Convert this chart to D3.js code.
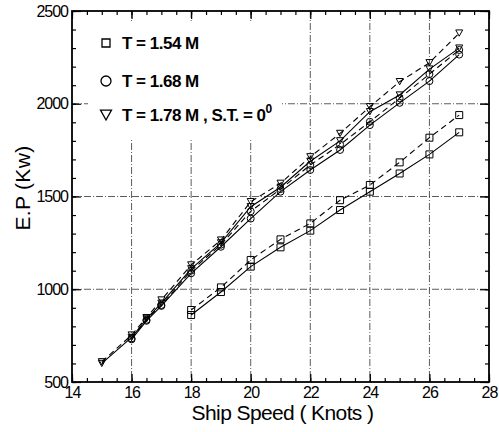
<!DOCTYPE html>
<html>
<head>
<meta charset="utf-8">
<script src="https://cdn.jsdelivr.net/npm/d3@7"></script>
<style>
  body { margin: 0; background: #fff; }
  svg { display: block; font-family: "Liberation Sans", Arial, sans-serif; }
</style>
</head>
<body>
<div id="chart"></div>
<script>
// speeds (knots)
var speedsUpper = [15, 16, 16.5, 17, 18, 19, 20, 21, 22, 23, 24, 25, 26, 27];
var speedsCircle = [16, 16.5, 17, 18, 19, 20, 21, 22, 23, 24, 25, 26, 27];
var speedsSquare = [18, 19, 20, 21, 22, 23, 24, 25, 26, 27];

// E.P (Kw)
var triDashed = [609, 753, 847, 942, 1131, 1265, 1472, 1571, 1714, 1840, 1984, 2119, 2221, 2381];
var triSolid = [600, 740, 840, 925, 1110, 1250, 1445, 1550, 1690, 1800, 1957, 2047, 2187, 2300];
var circDashed = [735, 835, 915, 1100, 1240, 1420, 1540, 1670, 1780, 1903, 2030, 2160, 2290];
var circSolid = [730, 830, 910, 1086, 1229, 1381, 1526, 1643, 1751, 1885, 2005, 2122, 2265];
var sqDashed = [888, 1010, 1158, 1269, 1355, 1480, 1562, 1684, 1817, 1939];
var sqSolid = [861, 985, 1122, 1226, 1316, 1427, 1526, 1624, 1727, 1846];

var xTicks = [14, 16, 18, 20, 22, 24, 26, 28];
var yTicks = [500, 1000, 1500, 2000, 2500];
var legendLabels = ["T = 1.54 M", "T = 1.68 M", "T = 1.78 M , S.T. = 0"];

var W = 499, H = 432;
// plot box (window.top is taken, hence the prefix)
var pLeft = 72, pRight = 489, pTop = 11, pBottom = 382;

var x = d3.scaleLinear().domain([14, 28]).range([pLeft, pRight]);
var y = d3.scaleLinear().domain([500, 2500]).range([pBottom, pTop]);

var svg = d3.select('#chart').append('svg').attr('width', W).attr('height', H);

// grid (dash-dot)
var grid = svg.append('g').attr('stroke', '#333').attr('stroke-width', 0.8)
  .attr('stroke-dasharray', '7,2,1,2');
xTicks.slice(1, -1).forEach(function(v) {
  grid.append('line').attr('x1', x(v)).attr('x2', x(v)).attr('y1', pTop).attr('y2', pBottom);
});
yTicks.slice(1, -1).forEach(function(v) {
  grid.append('line').attr('x1', pLeft).attr('x2', pRight).attr('y1', y(v)).attr('y2', y(v));
});

// axes, ticks pointing inward
var minorX = d3.range(14, 28.01, 0.5);
var minorY = d3.range(500, 2501, 100);

function styleAxis(g) {
  g.select('.domain').remove();
  g.selectAll('line').attr('stroke', '#000').attr('stroke-width', 1.2);
  g.selectAll('text').attr('fill', '#000').attr('font-size', 16).attr('letter-spacing', -1);
}

svg.append('g').attr('transform', 'translate(0,' + pBottom + ')')
  .call(d3.axisBottom(x).tickValues(minorX).tickSize(-4).tickFormat(''))
  .call(styleAxis);
svg.append('g').attr('transform', 'translate(0,' + pBottom + ')')
  .call(d3.axisBottom(x).tickValues(xTicks).tickSize(-8).tickPadding(5).tickFormat(d3.format('d')))
  .call(styleAxis);
svg.append('g').attr('transform', 'translate(0,' + pTop + ')')
  .call(d3.axisTop(x).tickValues(minorX).tickSize(-4).tickFormat(''))
  .call(styleAxis);
svg.append('g').attr('transform', 'translate(0,' + pTop + ')')
  .call(d3.axisTop(x).tickValues(xTicks).tickSize(-8).tickFormat(''))
  .call(styleAxis);

svg.append('g').attr('transform', 'translate(' + pLeft + ',0)')
  .call(d3.axisLeft(y).tickValues(minorY).tickSize(-4).tickFormat(''))
  .call(styleAxis);
svg.append('g').attr('transform', 'translate(' + pLeft + ',0)')
  .call(d3.axisLeft(y).tickValues(yTicks).tickSize(-9).tickPadding(4).tickFormat(d3.format('d')))
  .call(styleAxis);
svg.append('g').attr('transform', 'translate(' + pRight + ',0)')
  .call(d3.axisRight(y).tickValues(minorY).tickSize(-4).tickFormat(''))
  .call(styleAxis);
svg.append('g').attr('transform', 'translate(' + pRight + ',0)')
  .call(d3.axisRight(y).tickValues(yTicks).tickSize(-9).tickFormat(''))
  .call(styleAxis);

// frame
svg.append('rect').attr('x', pLeft).attr('y', pTop)
  .attr('width', pRight - pLeft).attr('height', pBottom - pTop)
  .attr('fill', 'none').attr('stroke', '#000').attr('stroke-width', 1.8);

// markers
var symSquare = d3.symbol().type(d3.symbolSquare);
var symCircle = d3.symbol().type(d3.symbolCircle);
function triPath(s) {
  var h = s * 0.9;
  return 'M' + (-s / 2) + ',' + (-h / 2) + 'L' + (s / 2) + ',' + (-h / 2) + 'L0,' + (h / 2) + 'Z';
}
function markerPath(kind, size) {
  if (kind === 'square') return symSquare.size(size * size)();
  if (kind === 'circle') return symCircle.size(Math.PI * size * size / 4)();
  return triPath(size);
}

var series = [
  { xs: speedsSquare, ys: sqSolid, dash: null, kind: 'square' },
  { xs: speedsSquare, ys: sqDashed, dash: '6,4', kind: 'square' },
  { xs: speedsCircle, ys: circSolid, dash: null, kind: 'circle' },
  { xs: speedsCircle, ys: circDashed, dash: '6,4', kind: 'circle' },
  { xs: speedsUpper, ys: triSolid, dash: null, kind: 'tri' },
  { xs: speedsUpper, ys: triDashed, dash: '6,4', kind: 'tri' }
];

var line = d3.line().x(function(d) { return x(d[0]); }).y(function(d) { return y(d[1]); });

series.forEach(function(s) {
  var pts = s.xs.map(function(v, i) { return [v, s.ys[i]]; });
  svg.append('path').datum(pts).attr('d', line)
    .attr('fill', 'none').attr('stroke', '#000').attr('stroke-width', 1.1)
    .attr('stroke-dasharray', s.dash);
  svg.append('g').selectAll('path').data(pts).enter().append('path')
    .attr('transform', function(d) { return 'translate(' + x(d[0]) + ',' + y(d[1]) + ')'; })
    .attr('d', markerPath(s.kind, 7))
    .attr('fill', 'none').attr('stroke', '#000').attr('stroke-width', 1);
});

// legend, on a white box that hides the grid behind it
var legY = [43, 81, 115];
var legKinds = ['square', 'circle', 'tri'];
var legSizes = [8, 10, 11];
var leg = svg.append('g');
leg.append('rect').attr('x', 88).attr('y', 22).attr('width', 194).attr('height', 118)
  .attr('fill', '#fff');
legKinds.forEach(function(k, i) {
  leg.append('path').attr('transform', 'translate(106,' + legY[i] + ')')
    .attr('d', markerPath(k, legSizes[i]))
    .attr('fill', 'none').attr('stroke', '#000').attr('stroke-width', 1.3);
  var t = leg.append('text').attr('x', 122).attr('y', legY[i] + 6)
    .attr('font-size', 17).attr('font-weight', 'bold').attr('letter-spacing', -0.5)
    .text(legendLabels[i]);
  if (i === 2) {
    t.append('tspan').attr('dy', -8).attr('font-size', 12).text('0');
  }
});

// titles
svg.append('text').attr('x', (pLeft + pRight) / 2 + 2).attr('y', 420)
  .attr('text-anchor', 'middle').attr('font-size', 21).attr('letter-spacing', -0.6)
  .text('Ship Speed ( Knots )');
svg.append('text').attr('transform', 'translate(30,188) rotate(-90)')
  .attr('text-anchor', 'middle').attr('font-size', 21).attr('letter-spacing', 0.3)
  .text('E.P (Kw)');
</script>
</body>
</html>
